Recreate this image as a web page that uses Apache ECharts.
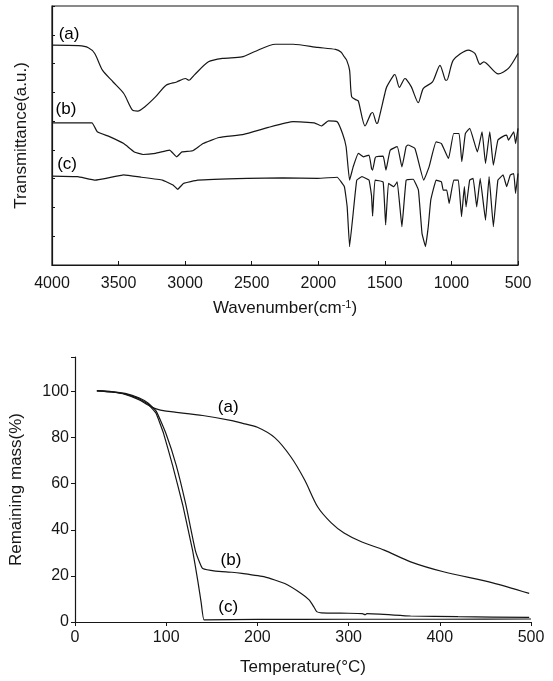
<!DOCTYPE html>
<html>
<head>
<meta charset="utf-8">
<script src="https://cdn.jsdelivr.net/npm/echarts@6/dist/echarts.min.js"></script>
<style>html,body{margin:0;padding:0;background:#fff}#c{width:553px;height:681px}</style>
</head>
<body>
<div id="c"></div>
<script>
// ---------- FTIR (top) ----------
const wnTicks = [4000, 3500, 3000, 2500, 2000, 1500, 1000, 500];
const aWave = [4000,3800,3727,3679,3621,3541,3461,3395,3356,3302,3223,3143,3064,2998,2971,2932,2825,2719,2574,2481,2322,2189,2003,1870,1830,1804,1787,1765,1749,1712,1699,1649,1606,1592,1561,1552,1500,1486,1433,1424,1391,1349,1340,1301,1249,1211,1142,1086,1048,1035,986,873,824,785,757,648,572,500];
const aTrans = [7.64,7.62,7.55,7.35,6.77,6.36,5.96,5.38,5.35,5.50,5.84,6.25,6.36,6.48,6.42,6.60,7.06,7.18,7.23,7.41,7.67,7.67,7.56,7.49,7.40,7.23,7.12,6.77,5.84,5.73,5.70,4.83,5.25,5.30,4.92,4.95,5.96,6.19,6.60,6.62,6.17,6.48,6.46,6.19,5.64,6.14,6.36,6.94,6.45,6.42,7.12,7.47,7.35,6.97,7.06,6.64,6.83,7.35];

const bWave = [4000,3700,3660,3568,3461,3382,3316,3223,3117,3064,3024,2944,2865,2746,2560,2375,2189,2030,1977,1924,1858,1818,1791,1765,1738,1699,1659,1619,1600,1592,1574,1566,1513,1492,1460,1407,1372,1340,1327,1274,1208,1168,1115,1075,1022,983,943,922,895,863,805,770,744,712,685,651,612,585,572,532,518,500];
const bTrans = [4.94,4.94,4.63,4.46,4.22,3.93,3.84,3.88,3.99,3.76,3.93,3.97,4.22,4.43,4.54,4.78,4.98,4.94,4.83,5.01,4.98,4.57,4.11,2.95,3.41,3.88,3.76,3.82,3.35,3.30,3.70,3.76,3.78,3.30,3.99,4.11,3.41,4.12,4.17,4.05,2.95,3.41,4.28,4.22,3.70,4.57,4.57,3.59,4.57,4.75,3.93,4.63,3.53,4.63,3.47,4.34,4.47,4.51,4.34,4.63,4.22,4.75];

const cWave = [4000,3807,3674,3594,3461,3329,3170,3091,3056,3011,2905,2534,2268,2003,1858,1804,1783,1765,1738,1711,1672,1619,1600,1592,1574,1513,1494,1473,1433,1407,1372,1340,1287,1248,1221,1195,1174,1155,1115,1075,1062,1035,1017,983,948,924,903,890,863,837,810,784,744,717,685,651,612,585,558,532,518,500];
const cTrans = [3.09,3.07,2.95,3.01,3.13,3.05,2.95,2.78,2.63,2.84,2.95,3.01,3.03,3.01,3.05,2.72,2.02,0.64,1.80,2.95,3.07,2.95,2.40,1.70,2.95,2.89,1.39,2.84,2.72,2.89,1.33,2.95,2.98,2.60,1.10,0.64,1.33,2.26,2.95,2.89,2.60,2.60,2.14,2.95,2.95,1.68,2.72,2.02,2.95,3.01,2.02,3.01,1.56,3.07,1.33,2.95,3.13,2.72,3.13,3.18,2.49,3.18];
const ftirTags = ['(a)', '(b)', '(c)'];
const ftirTagWave = [3872, 3895, 3887];
const ftirTagTrans = [8.02, 5.42, 3.51];

// ---------- TGA (bottom) ----------
const tempTicks = [0, 100, 200, 300, 400, 500];
const massTicks = [0, 20, 40, 60, 80, 100];
const tgaATemp = [24,40,55,70,80,89,100,111,140,172,183,200,219,237,252,266,281,295,314,339,368,404,458,498];
const tgaAMass = [100.3,99.8,98.8,96.5,94.2,92.5,91.5,91.0,89.6,87.4,86.3,84.5,80.0,71.5,61.5,50.0,43.0,38.6,34.8,31.2,26.1,21.8,17.0,12.4];
const tgaBTemp = [24,40,55,70,80,89,100,111,121.5,132,137,140,154,172,183,208,230,248,257,262,265,270,300,315,318,320,368,420,498];
const tgaBMass = [100.4,100.0,99.2,97.3,95.0,91.5,81.5,68.0,51.0,31.0,25.5,23.2,22.1,21.6,21.1,19.6,16.7,12.4,9.5,6.5,4.5,4.0,3.8,3.6,3.2,3.6,2.6,2.3,2.0];
const tgaCTemp = [24,40,55,70,80,89,97,107,118,129,135,138.5,141.5,200,300,400,500];
const tgaCMass = [100.3,99.9,99.0,97.0,94.6,90.5,82.0,68.0,51.0,31.0,17.0,8.0,0.9,1.1,1.2,1.2,1.3];
const tgaTags = ['(a)', '(b)', '(c)'];
const tgaTagTemp = [168, 171, 168];
const tgaTagMass = [93, 26.8, 6.5];

const zip = (xs, ys) => xs.map((x, i) => [x, ys[i]]);
const ink = '#161616';
const font = 'Liberation Sans, Arial, sans-serif';

function line(xi, yi, data, smooth) {
  return { type: 'line', xAxisIndex: xi, yAxisIndex: yi, data: data, showSymbol: false, symbol: 'none',
    smooth: smooth, lineStyle: { color: ink, width: 1.2 }, silent: true, animation: false };
}
function tags(xi, yi, names, xs, ys) {
  return { type: 'scatter', xAxisIndex: xi, yAxisIndex: yi, silent: true, symbol: 'circle', symbolSize: 1,
    itemStyle: { color: 'rgba(0,0,0,0)' },
    data: names.map((n, i) => ({ value: [xs[i], ys[i]], name: n })),
    label: { show: true, position: 'inside', formatter: p => p.name, color: '#000', opacity: 1,
      textBorderWidth: 0, textShadowBlur: 0, fontSize: 17, fontFamily: font } };
}
const plain = v => String(v);

const chart = echarts.init(document.getElementById('c'), null, { renderer: 'canvas' });
chart.setOption({
  animation: false,
  backgroundColor: '#fff',
  grid: [
    { left: 52, right: 35, top: 6, height: 259, show: true, borderColor: ink, borderWidth: 1.2, backgroundColor: 'transparent' },
    { left: 71.5, right: 22, top: 357, height: 265 }
  ],
  xAxis: [
    { gridIndex: 0, type: 'value', inverse: true, min: wnTicks[wnTicks.length - 1], max: wnTicks[0], interval: 500,
      axisLine: { show: true, onZero: false, lineStyle: { color: ink, width: 1.2 } },
      axisTick: { show: true, inside: true, length: 4, lineStyle: { color: ink } },
      splitLine: { show: false },
      axisLabel: { color: ink, fontSize: 16, fontFamily: font, margin: 11, formatter: plain },
      name: 'Wavenumber(cm{sup|-1})', nameLocation: 'middle', nameGap: 34,
      nameTextStyle: { color: ink, fontSize: 17, fontFamily: font,
        rich: { sup: { fontSize: 11, verticalAlign: 'top', color: ink, fontFamily: font, padding: [0, 0, 8, 0] } } } },
    { gridIndex: 1, type: 'value', min: tempTicks[0], max: tempTicks[tempTicks.length - 1], interval: 100,
      axisLine: { show: true, onZero: false, lineStyle: { color: ink, width: 1.2 } },
      axisTick: { show: true, inside: false, length: 4, lineStyle: { color: ink } },
      splitLine: { show: false },
      axisLabel: { color: ink, fontSize: 16, fontFamily: font, margin: 8, formatter: plain },
      name: 'Temperature(°C)', nameLocation: 'middle', nameGap: 37,
      nameTextStyle: { color: ink, fontSize: 17, fontFamily: font } }
  ],
  yAxis: [
    { gridIndex: 0, type: 'value', min: 0, max: 9, interval: 1,
      axisLine: { show: true, lineStyle: { color: ink, width: 1.2 } },
      axisTick: { show: true, inside: true, length: 3, lineStyle: { color: ink } },
      axisLabel: { show: false }, splitLine: { show: false },
      name: 'Transmittance(a.u.)', nameLocation: 'middle', nameGap: 22,
      nameTextStyle: { color: ink, fontSize: 17, fontFamily: font } },
    { gridIndex: 1, type: 'value', min: 0, max: 115, interval: 20,
      axisLine: { show: true, lineStyle: { color: ink, width: 1.2 } },
      axisTick: { show: true, inside: false, length: 4, lineStyle: { color: ink } },
      axisLabel: { color: ink, fontSize: 16, fontFamily: font, margin: 6,
        formatter: v => (massTicks.indexOf(v) >= 0 ? String(v) : '') },
      splitLine: { show: false },
      name: 'Remaining mass(%)', nameLocation: 'middle', nameGap: 50,
      nameTextStyle: { color: ink, fontSize: 17, fontFamily: font } }
  ],
  series: [
    line(0, 0, zip(aWave, aTrans), 0.25),
    line(0, 0, zip(bWave, bTrans), 0.12),
    line(0, 0, zip(cWave, cTrans), 0.08),
    tags(0, 0, ftirTags, ftirTagWave, ftirTagTrans),
    line(1, 1, zip(tgaATemp, tgaAMass), 0.25),
    line(1, 1, zip(tgaBTemp, tgaBMass), 0.15),
    line(1, 1, zip(tgaCTemp, tgaCMass), 0.08),
    tags(1, 1, tgaTags, tgaTagTemp, tgaTagMass)
  ]
});
</script>
</body>
</html>
